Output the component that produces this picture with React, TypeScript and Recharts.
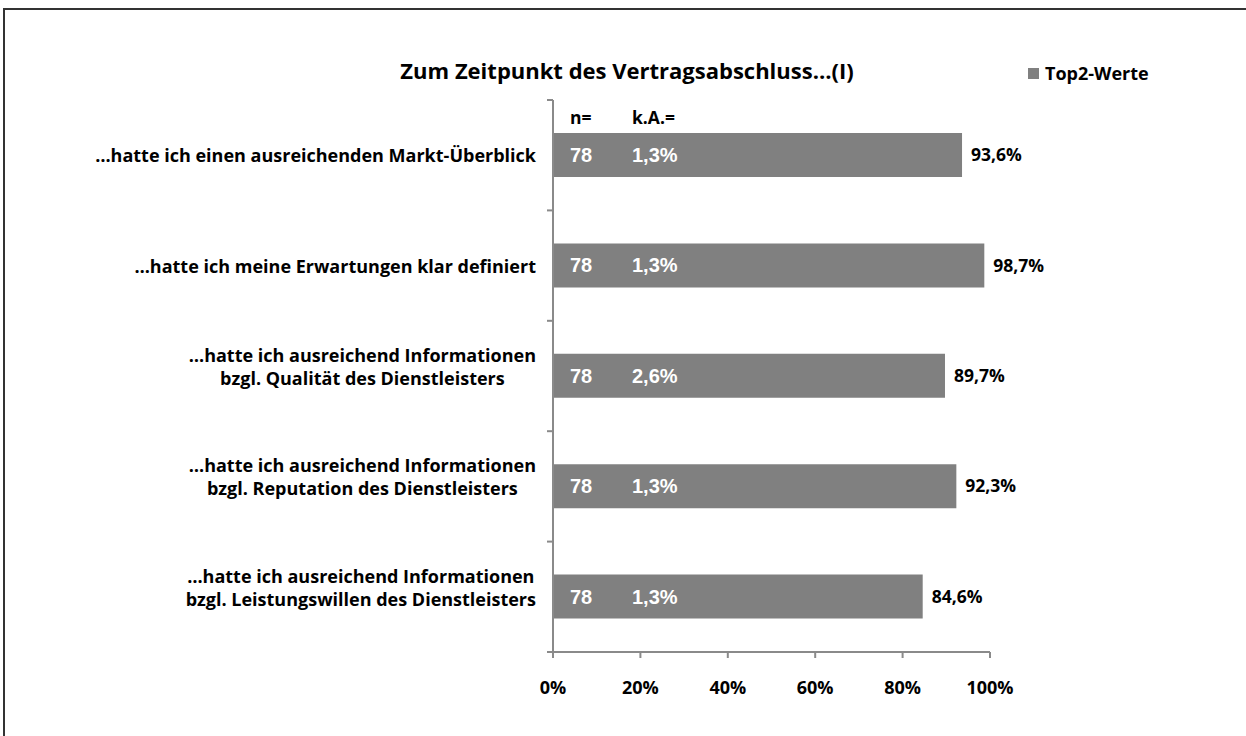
import { BarChart, Bar, XAxis, YAxis, Legend, LabelList } from 'recharts';

const categories = [
  '…hatte ich einen ausreichenden Markt-Überblick',
  '…hatte ich meine Erwartungen klar definiert',
  '…hatte ich ausreichend Informationen\nbzgl. Qualität des Dienstleisters',
  '…hatte ich ausreichend Informationen\nbzgl. Reputation des Dienstleisters',
  '…hatte ich ausreichend Informationen\nbzgl. Leistungswillen des Dienstleisters',
];
const top2Values = [93.6, 98.7, 89.7, 92.3, 84.6];
const nValues = [78, 78, 78, 78, 78];
const kaValues = [1.3, 1.3, 2.6, 1.3, 1.3];
const xTicks = [0, 20, 40, 60, 80, 100];

const data = categories.map((c, i) => ({
  category: c,
  top2: top2Values[i],
  n: nValues[i],
  ka: kaValues[i],
}));

const LABEL_FONT = '"Open Sans", Lato, sans-serif';
const INNER_FONT = '"Liberation Sans", Arial, sans-serif';
const BAR_COLOR = '#808080';
const AXIS_COLOR = '#8a8a8a';
const CAT_SIZE = 18;
const TICK_SIZE = 6;
const TICK_MARGIN = 2;

const pct = (v: number) => `${v.toFixed(1).replace('.', ',')}%`;

let measureCtx: CanvasRenderingContext2D | null = null;
function textWidth(s: string, font: string) {
  if (!measureCtx) measureCtx = document.createElement('canvas').getContext('2d');
  if (!measureCtx) return s.length * 9;
  measureCtx.font = font;
  return measureCtx.measureText(s).width;
}

// category label + tick marks on the band edges (Excel style)
function CategoryTick(props: any) {
  const { x, y, payload, index, visibleTicksCount } = props;
  const lines: string[] = String(payload.value).split('\n');
  const axisX = x + TICK_SIZE + TICK_MARGIN;
  const half = payload.offset ?? 0;
  const right = x - 9;
  const isLast = index === (visibleTicksCount ?? categories.length) - 1;

  const edges = (
    <>
      <line x1={axisX - TICK_SIZE} x2={axisX} y1={y - half} y2={y - half} stroke={AXIS_COLOR} strokeWidth={2} />
      {isLast && (
        <line x1={axisX - TICK_SIZE} x2={axisX} y1={y + half} y2={y + half} stroke={AXIS_COLOR} strokeWidth={2} />
      )}
    </>
  );

  if (lines.length === 1) {
    return (
      <g>
        {edges}
        <text x={right} y={y} textAnchor="end" dominantBaseline="central"
          fontFamily={LABEL_FONT} fontWeight={700} fontSize={CAT_SIZE} fill="#000">
          {lines[0]}
        </text>
      </g>
    );
  }
  const maxW = Math.max(...lines.map((l) => textWidth(l, `700 ${CAT_SIZE}px ${LABEL_FONT}`)));
  const cx = right - maxW / 2;
  return (
    <g>
      {edges}
      <text x={cx} y={y} textAnchor="middle" dominantBaseline="central"
        fontFamily={LABEL_FONT} fontWeight={700} fontSize={CAT_SIZE} fill="#000">
        {lines.map((l, i) => (
          <tspan key={i} x={cx} dy={i === 0 ? -21 : 23}>{l}</tspan>
        ))}
      </text>
    </g>
  );
}

function InnerLabel(props: any, offsetX: number, header: string, fmt: (v: number) => string) {
  const { x, y, height, value, index } = props;
  return (
    <g>
      {index === 0 && (
        <text x={x + offsetX} y={y - 16} dominantBaseline="central"
          fontFamily={LABEL_FONT} fontWeight={700} fontSize={17.5} fill="#000">
          {header}
        </text>
      )}
      <text x={x + offsetX} y={y + height / 2} dominantBaseline="central"
        fontFamily={INNER_FONT} fontWeight={700} fontSize={20} fill="#fff">
        {fmt(value)}
      </text>
    </g>
  );
}

function LegendContent() {
  return (
    <div style={{ display: 'flex', alignItems: 'center', fontFamily: LABEL_FONT, fontWeight: 700, fontSize: 18 }}>
      <span style={{ display: 'inline-block', width: 11, height: 11, background: BAR_COLOR, marginRight: 6 }} />
      <span>Top2-Werte</span>
    </div>
  );
}

export default function App() {
  return (
    <div style={{ position: 'absolute', left: 0, top: 0, width: 1246, height: 736, background: '#fff', overflow: 'hidden' }}>
      <div style={{ position: 'absolute', left: 3, top: 8, width: 1243, height: 728, borderTop: '2px solid #333', borderLeft: '2px solid #333', boxSizing: 'border-box' }} />
      <div style={{ position: 'absolute', left: 0, width: 1254, top: 55, textAlign: 'center', fontFamily: LABEL_FONT, fontWeight: 700, fontSize: 22 }}>
        Zum Zeitpunkt des Vertragsabschluss…(I)
      </div>
      <BarChart
        width={1246}
        height={736}
        data={data}
        layout="vertical"
        margin={{ top: 100, right: 256, bottom: 44, left: 0 }}
        barCategoryGap={33}
        style={{ position: 'absolute', left: 0, top: 0 }}
      >
        <YAxis
          type="category"
          dataKey="category"
          width={553}
          axisLine={{ stroke: AXIS_COLOR, strokeWidth: 2 }}
          tickLine={false}
          tickSize={TICK_SIZE}
          tickMargin={TICK_MARGIN}
          interval={0}
          tick={<CategoryTick />}
        />
        <XAxis
          type="number"
          domain={[0, 100]}
          ticks={xTicks}
          interval={0}
          tickFormatter={(v: number) => `${v}%`}
          height={40}
          tickSize={6}
          tickMargin={23}
          axisLine={{ stroke: AXIS_COLOR, strokeWidth: 2 }}
          tickLine={{ stroke: AXIS_COLOR, strokeWidth: 2 }}
          tick={{ fill: '#000', fontSize: 18, fontWeight: 700, fontFamily: LABEL_FONT }}
        />
        <Legend
          layout="horizontal"
          verticalAlign="middle"
          align="center"
          content={<LegendContent />}
          wrapperStyle={{ position: 'absolute', left: 1028, top: 61, width: 'auto' }}
        />
        <Bar dataKey="top2" name="Top2-Werte" fill={BAR_COLOR} isAnimationActive={false}>
          <LabelList dataKey="n" content={(p: any) => InnerLabel(p, 17, 'n=', (v) => String(v))} />
          <LabelList dataKey="ka" content={(p: any) => InnerLabel(p, 79, 'k.A.=', pct)} />
          <LabelList
            dataKey="top2"
            position="right"
            offset={9}
            formatter={(v: any) => pct(Number(v))}
            style={{ fill: '#000', fontSize: 17.5, fontWeight: 700, fontFamily: LABEL_FONT }}
          />
        </Bar>
      </BarChart>
    </div>
  );
}
